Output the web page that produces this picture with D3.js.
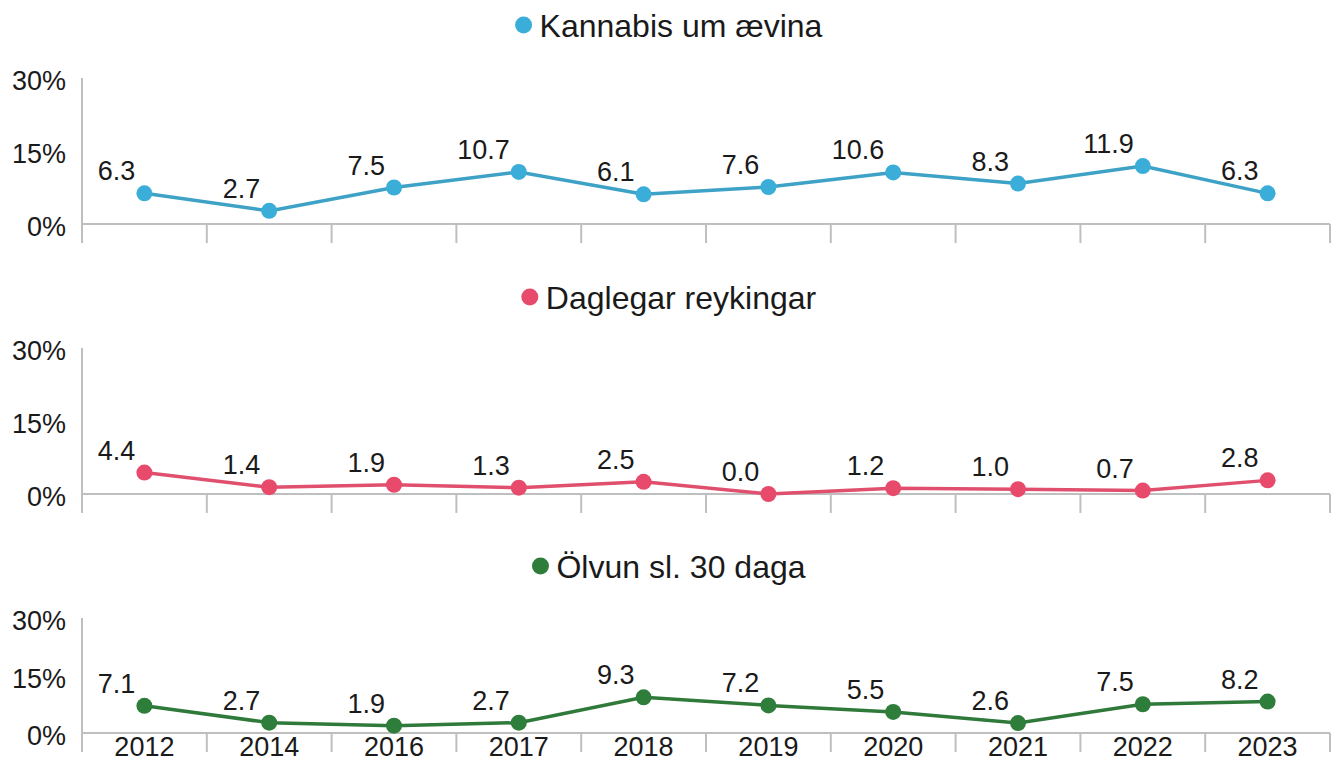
<!DOCTYPE html>
<html>
<head>
<meta charset="utf-8">
<script src="https://cdn.jsdelivr.net/npm/d3@7"></script>
<style>
  body { margin: 0; background: #fff; }
  text { font-family: "Liberation Sans", Arial, sans-serif; fill: #1a1a1a; }
</style>
</head>
<body>
<script>
var years = ["2012", "2014", "2016", "2017", "2018", "2019", "2020", "2021", "2022", "2023"];
var yTicks = [0, 15, 30];

var kannabis = [6.3, 2.7, 7.5, 10.7, 6.1, 7.6, 10.6, 8.3, 11.9, 6.3];
var reykingar = [4.4, 1.4, 1.9, 1.3, 2.5, 0.0, 1.2, 1.0, 0.7, 2.8];
var olvun = [7.1, 2.7, 1.9, 2.7, 9.3, 7.2, 5.5, 2.6, 7.5, 8.2];

var titles = ["Kannabis um ævina", "Daglegar reykingar", "Ölvun sl. 30 daga"];
var colors = ["#3aaed8", "#e84a6c", "#2e7d3a"];
var lineColors = ["#3da2c6", "#e0506e", "#2f7a3a"];

var width = 1337, height = 763;
var left = 82, right = 1330;

// each panel: top of y axis, zero baseline, legend y
var panels = [
  {values: kannabis, top: 78, base: 224, legendY: 25},
  {values: reykingar, top: 348, base: 494, legendY: 297},
  {values: olvun, top: 618, base: 733, legendY: 566}
];

var svg = d3.select("body").append("svg")
    .attr("width", width)
    .attr("height", height);

var xScale = d3.scaleBand().domain(years).range([left, right]);

panels.forEach(function(p, i) {
  var yScale = d3.scaleLinear().domain([0, 30]).range([p.base, p.top]);
  var g = svg.append("g");

  // y axis line
  g.append("line")
      .attr("x1", left).attr("x2", left)
      .attr("y1", p.top).attr("y2", p.base + 19)
      .attr("stroke", "#bfbfbf").attr("stroke-width", 2);

  // x axis baseline and category ticks
  g.append("line")
      .attr("x1", left).attr("x2", right)
      .attr("y1", p.base).attr("y2", p.base)
      .attr("stroke", "#bfbfbf").attr("stroke-width", 2);

  var tickX = years.map(function(y) { return xScale(y); }).concat([right]);
  g.selectAll(".tick").data(tickX).enter().append("line")
      .attr("x1", function(d) { return d; }).attr("x2", function(d) { return d; })
      .attr("y1", p.base).attr("y2", p.base + 19)
      .attr("stroke", "#bfbfbf").attr("stroke-width", 2);

  // y tick labels
  g.selectAll(".ylab").data(yTicks).enter().append("text")
      .attr("x", 66)
      .attr("y", function(d) { return yScale(d) + 12; })
      .attr("text-anchor", "end")
      .attr("font-size", "27px")
      .text(function(d) { return d + "%"; });

  // line
  var line = d3.line()
      .x(function(d, j) { return xScale(years[j]) + xScale.bandwidth() / 2; })
      .y(function(d) { return yScale(d); });

  g.append("path")
      .datum(p.values)
      .attr("d", line)
      .attr("fill", "none")
      .attr("stroke", lineColors[i])
      .attr("stroke-width", 3.5);

  g.selectAll(".dot").data(p.values).enter().append("circle")
      .attr("cx", function(d, j) { return xScale(years[j]) + xScale.bandwidth() / 2; })
      .attr("cy", function(d) { return yScale(d); })
      .attr("r", 8)
      .attr("fill", colors[i]);

  g.selectAll(".val").data(p.values).enter().append("text")
      .attr("x", function(d, j) { return xScale(years[j]) + xScale.bandwidth() / 2 - 9; })
      .attr("y", function(d) { return yScale(d) - 13; })
      .attr("text-anchor", "end")
      .attr("font-size", "27px")
      .text(function(d) { return d.toFixed(1); });

  // legend
  var lg = g.append("g");
  var lt = lg.append("text")
      .attr("x", 16)
      .attr("y", p.legendY + 11.5)
      .attr("font-size", "32px")
      .text(titles[i]);
  lg.append("circle")
      .attr("cx", 0).attr("cy", p.legendY)
      .attr("r", 8.5)
      .attr("fill", colors[i]);
  var w = 16 + lt.node().getComputedTextLength();
  lg.attr("transform", "translate(" + (673 - w / 2) + ",0)");

  // x labels on bottom panel only
  if (i === panels.length - 1) {
    g.selectAll(".xlab").data(years).enter().append("text")
        .attr("x", function(d) { return xScale(d) + xScale.bandwidth() / 2; })
        .attr("y", p.base + 23)
        .attr("text-anchor", "middle")
        .attr("font-size", "27px")
        .text(function(d) { return d; });
  }
});
</script>
</body>
</html>
